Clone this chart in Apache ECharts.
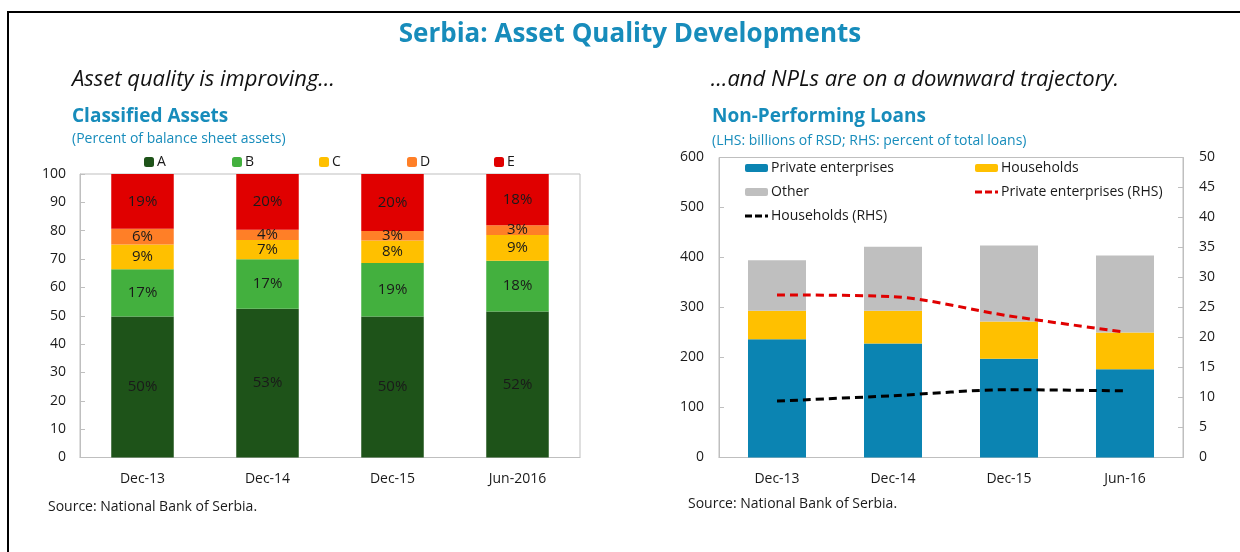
<!DOCTYPE html>
<html>
<head>
<meta charset="utf-8">
<script src="https://cdn.jsdelivr.net/npm/echarts@6/dist/echarts.min.js"></script>
<style>
html,body{margin:0;padding:0;background:#fff;}
#chart{width:1240px;height:552px;}
</style>
</head>
<body>
<div id="chart"></div>
<script>
// ---- Left chart data: Classified Assets (percent of balance sheet assets)
const leftCategories = ['Dec-13', 'Dec-14', 'Dec-15', 'Jun-2016'];
const classA = [49.7, 52.5, 49.7, 51.5];
const classB = [16.7, 17.4, 18.9, 17.9];
const classC = [8.7, 6.8, 7.9, 9.1];
const classD = [5.6, 3.6, 3.4, 3.4];
const classE = [19.3, 19.7, 20.1, 18.1];
const leftTicks = [0, 10, 20, 30, 40, 50, 60, 70, 80, 90, 100];

// ---- Right chart data: Non-Performing Loans
const rightCategories = ['Dec-13', 'Dec-14', 'Dec-15', 'Jun-16'];
const privateEnterprises = [236.7, 228.0, 197.3, 176.7];
const households = [56.7, 65.3, 74.7, 73.3];
const other = [101.3, 128.0, 152.0, 154.0];
const privateEnterprisesRHS = [27.1, 26.8, 23.6, 20.9];
const householdsRHS = [9.4, 10.3, 11.3, 11.1];

const FONT = "'Open Sans', 'Noto Sans', sans-serif";
const BLUE = '#178cbb';
const AXIS = '#bfbfbf';
const DASH_ICON = 'path://M0,0 h7 v3 h-7 z M10,0 h7 v3 h-7 z M20,0 h3 v3 h-3 z';

const chart = echarts.init(document.getElementById('chart'), null, {renderer: 'canvas'});

function pctLabel(p) { return Math.round(p.value) + '%'; }

const leftBar = (name, data, color) => ({
  name, type: 'bar', stack: 'cls', data, xAxisIndex: 0, yAxisIndex: 0,
  barWidth: '50%',
  itemStyle: {color},
  label: {show: true, position: 'inside', formatter: pctLabel, color: '#1a1a1a', fontSize: 15, fontFamily: FONT}
});

const legendCommon = {
  orient: 'horizontal', padding: 0, itemGap: 0,
  textStyle: {color: '#1a1a1a', fontSize: 14, fontFamily: FONT, padding: [0,0,0,-2]},
  selectedMode: false
};

const option = {
  animation: false,
  backgroundColor: '#fff',
  textStyle: {fontFamily: FONT},
  graphic: [
    {type: 'rect', shape: {x: 8, y: 12, width: 1250, height: 560}, style: {fill: 'none', stroke: '#000', lineWidth: 2}, silent: true},
    {type: 'text', x: 630, y: 35, style: {text: 'Serbia: Asset Quality Developments', font: "bold 26px " + FONT, fill: BLUE, textAlign: 'center', textVerticalAlign: 'middle'}},
    {type: 'text', x: 72, y: 80, style: {text: 'Asset quality is improving…', font: "italic 22px " + FONT, fill: '#111', textVerticalAlign: 'middle'}},
    {type: 'text', x: 1119, y: 80, style: {text: '…and NPLs are on a downward trajectory.', font: "italic 22px " + FONT, fill: '#111', textAlign: 'right', textVerticalAlign: 'middle'}},
    {type: 'text', x: 72, y: 117, style: {text: 'Classified Assets', font: "bold 19px " + FONT, fill: BLUE, textVerticalAlign: 'middle'}},
    {type: 'text', x: 72, y: 139, style: {text: '(Percent of balance sheet assets)', font: "14px " + FONT, fill: BLUE, textVerticalAlign: 'middle'}},
    {type: 'text', x: 712, y: 117, style: {text: 'Non-Performing Loans', font: "bold 19px " + FONT, fill: BLUE, textVerticalAlign: 'middle'}},
    {type: 'text', x: 712, y: 141, style: {text: '(LHS: billions of RSD; RHS: percent of total loans)', font: "14px " + FONT, fill: BLUE, textVerticalAlign: 'middle'}},
    {type: 'text', x: 48, y: 507, style: {text: 'Source: National Bank of Serbia.', font: "14px " + FONT, fill: '#1a1a1a', textVerticalAlign: 'middle'}},
    {type: 'text', x: 688, y: 504, style: {text: 'Source: National Bank of Serbia.', font: "14px " + FONT, fill: '#1a1a1a', textVerticalAlign: 'middle'}}
  ],
  legend: [
    Object.assign({}, legendCommon, {data: ['A'], left: 144, top: 155, itemWidth: 10, itemHeight: 10}),
    Object.assign({}, legendCommon, {data: ['B'], left: 232, top: 155, itemWidth: 10, itemHeight: 10}),
    Object.assign({}, legendCommon, {data: ['C'], left: 319, top: 155, itemWidth: 10, itemHeight: 10}),
    Object.assign({}, legendCommon, {data: ['D'], left: 407, top: 155, itemWidth: 10, itemHeight: 10}),
    Object.assign({}, legendCommon, {data: ['E'], left: 494, top: 155, itemWidth: 10, itemHeight: 10}),
    Object.assign({}, legendCommon, {data: ['Private enterprises'], left: 745, top: 161, itemWidth: 23, itemHeight: 8}),
    Object.assign({}, legendCommon, {data: ['Households'], left: 975, top: 161, itemWidth: 23, itemHeight: 8}),
    Object.assign({}, legendCommon, {data: ['Other'], left: 745, top: 185, itemWidth: 23, itemHeight: 8}),
    Object.assign({}, legendCommon, {data: [{name: 'Private enterprises (RHS)', icon: DASH_ICON}], left: 975, top: 185, itemWidth: 23, itemHeight: 3}),
    Object.assign({}, legendCommon, {data: [{name: 'Households (RHS)', icon: DASH_ICON}], left: 745, top: 209, itemWidth: 23, itemHeight: 3})
  ],
  grid: [
    {left: 80, right: 660, top: 174, bottom: 94.5, show: true, borderColor: AXIS, borderWidth: 1, backgroundColor: 'transparent'},
    {left: 719, right: 57, top: 157.5, bottom: 94.5, show: true, borderColor: AXIS, borderWidth: 1, backgroundColor: 'transparent'}
  ],
  xAxis: [
    {type: 'category', gridIndex: 0, data: leftCategories,
      axisLine: {lineStyle: {color: AXIS}}, axisTick: {show: false},
      axisLabel: {color: '#1a1a1a', fontSize: 14, margin: 15, fontFamily: FONT}},
    {type: 'category', gridIndex: 1, data: rightCategories,
      axisLine: {lineStyle: {color: AXIS}}, axisTick: {show: false},
      axisLabel: {color: '#1a1a1a', fontSize: 14, margin: 15, fontFamily: FONT}}
  ],
  yAxis: [
    {type: 'value', gridIndex: 0, min: leftTicks[0], max: leftTicks[leftTicks.length - 1], interval: 10,
      axisLine: {show: true, lineStyle: {color: AXIS}}, axisTick: {show: true, inside: true, length: 5, lineStyle: {color: AXIS}},
      splitLine: {show: false}, axisLabel: {color: '#1a1a1a', fontSize: 14, margin: 14, fontFamily: FONT}},
    {type: 'value', gridIndex: 1, min: 0, max: 600, interval: 100,
      axisLine: {show: true, lineStyle: {color: AXIS}}, axisTick: {show: true, inside: true, length: 5, lineStyle: {color: AXIS}},
      splitLine: {show: false}, axisLabel: {color: '#1a1a1a', fontSize: 14, margin: 15, fontFamily: FONT}},
    {type: 'value', gridIndex: 1, position: 'right', min: 0, max: 50, interval: 5,
      axisLine: {show: true, lineStyle: {color: AXIS}}, axisTick: {show: true, inside: true, length: 5, lineStyle: {color: AXIS}},
      splitLine: {show: false}, axisLabel: {color: '#1a1a1a', fontSize: 14, margin: 16, fontFamily: FONT}}
  ],
  series: [
    leftBar('A', classA, '#1e5319'),
    leftBar('B', classB, '#43b03e'),
    leftBar('C', classC, '#ffc000'),
    leftBar('D', classD, '#ff7f27'),
    leftBar('E', classE, '#e00000'),
    {name: 'Private enterprises', type: 'bar', stack: 'npl', xAxisIndex: 1, yAxisIndex: 1, barWidth: '50%', data: privateEnterprises, itemStyle: {color: '#0b84b2'}},
    {name: 'Households', type: 'bar', stack: 'npl', xAxisIndex: 1, yAxisIndex: 1, data: households, itemStyle: {color: '#ffc000'}},
    {name: 'Other', type: 'bar', stack: 'npl', xAxisIndex: 1, yAxisIndex: 1, data: other, itemStyle: {color: '#bfbfbf'}},
    {name: 'Private enterprises (RHS)', type: 'line', xAxisIndex: 1, yAxisIndex: 2, data: privateEnterprisesRHS, smooth: 0.3,
      symbol: 'none', lineStyle: {color: '#e00000', width: 3, type: [8, 5]}, itemStyle: {color: '#e00000'}, z: 5},
    {name: 'Households (RHS)', type: 'line', xAxisIndex: 1, yAxisIndex: 2, data: householdsRHS, smooth: 0.3,
      symbol: 'none', lineStyle: {color: '#000', width: 3, type: [8, 5]}, itemStyle: {color: '#000'}, z: 5}
  ]
};
chart.setOption(option);
</script>
</body>
</html>
